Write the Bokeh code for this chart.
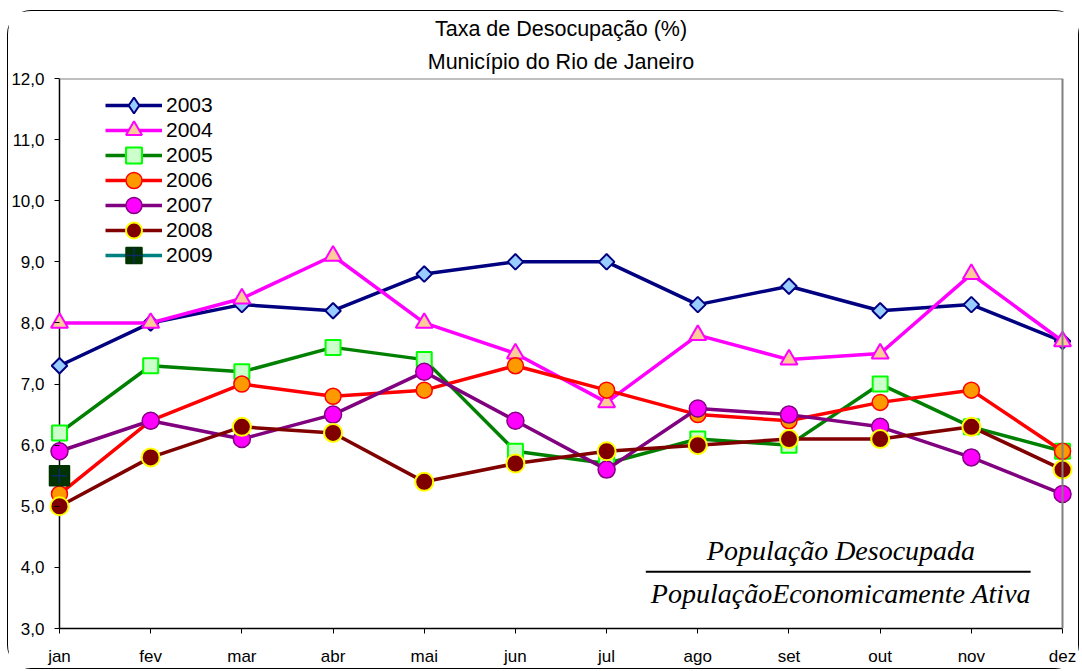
import math
from bokeh.plotting import figure
from bokeh.models import (FixedTicker, Legend, LegendItem, Label, LinearAxis, Span, Title)
from bokeh.embed import file_html
from bokeh.resources import INLINE

months = ["jan", "fev", "mar", "abr", "mai", "jun", "jul", "ago", "set", "out", "nov", "dez"]
y2003 = [7.3, 8.0, 8.3, 8.2, 8.8, 9.0, 9.0, 8.3, 8.6, 8.2, 8.3, 7.7]
y2004 = [8.0, 8.0, 8.4, 9.1, 8.0, 7.5, 6.7, 7.8, 7.4, 7.5, 8.8, 7.7]
y2005 = [6.2, 7.3, 7.2, 7.6, 7.4, 5.9, 5.7, 6.1, 6.0, 7.0, 6.3, 5.9]
y2006 = [5.2, 6.4, 7.0, 6.8, 6.9, 7.3, 6.9, 6.5, 6.4, 6.7, 6.9, 5.9]
y2007 = [5.9, 6.4, 6.1, 6.5, 7.2, 6.4, 5.6, 6.6, 6.5, 6.3, 5.8, 5.2]
y2008 = [5.0, 5.8, 6.3, 6.2, 5.4, 5.7, 5.9, 6.0, 6.1, 6.1, 6.3, 5.6]
y2009 = [5.5]
y_ticks = [3, 4, 5, 6, 7, 8, 9, 10, 11, 12]
Y_MIN, Y_MAX = 3, 12

FONT = "Liberation Sans"
n = len(months)

p = figure(width=1072, height=659, output_backend="svg", toolbar_location=None,
           x_range=(-0.1534, n - 1 + 0.153), y_range=(Y_MIN, Y_MAX),
           min_border_left=36, min_border_right=4, min_border_top=66, min_border_bottom=42)
p.styles = {"border": "1px solid black", "border-radius": "24px",
            "margin-left": "7px", "margin-top": "10px"}

p.xgrid.visible = False
p.ygrid.visible = False
p.outline_line_color = None
p.background_fill_color = "white"
p.border_fill_color = "white"

# y axis line at the first month
p.add_layout(Span(location=0, dimension="height", line_color="black", line_width=1.5, level="underlay"))

# axes
p.xaxis.ticker = FixedTicker(ticks=list(range(n)))
p.xaxis.major_label_overrides = {i: m for i, m in enumerate(months)}
p.xaxis.bounds = (0, n - 1)
p.yaxis.ticker = FixedTicker(ticks=y_ticks)
p.yaxis.major_label_overrides = {t: f"{t:.1f}".replace(".", ",") for t in y_ticks}
for ax in (p.xaxis, p.yaxis):
    ax.axis_line_color = "black"
    ax.axis_line_width = 1.5
    ax.major_tick_line_color = "black"
    ax.major_tick_line_width = 1
    ax.minor_tick_line_color = None
    ax.major_label_text_font = FONT
    ax.major_label_text_font_size = "17px"
    ax.major_label_text_color = "black"
p.xaxis.major_tick_in = 0
p.xaxis.major_tick_out = 5
p.xaxis.major_label_standoff = 13
p.yaxis.axis_line_color = None
p.yaxis.major_tick_in = 14
p.yaxis.major_tick_out = -9
p.yaxis.major_label_standoff = 1

# grey plot-area border on top and right
top_ax = LinearAxis(fixed_location=Y_MAX, bounds=(0, n - 1), ticker=FixedTicker(ticks=[]),
                    axis_line_color="#808080", axis_line_width=2, major_tick_line_color=None,
                    minor_tick_line_color=None, major_label_text_font_size="0px")
p.add_layout(top_ax, "above")
right_ax = LinearAxis(fixed_location=n - 1, ticker=FixedTicker(ticks=[]),
                      axis_line_color="#808080", axis_line_width=2, major_tick_line_color=None,
                      minor_tick_line_color=None, major_label_text_font_size="0px")
p.add_layout(right_ax, "right")

# titles
p.title.text = "Taxa de Desocupação (%)"
p.title.align = "center"
p.title.text_font = FONT
p.title.text_font_size = "21.5px"
p.title.text_font_style = "normal"
p.title.text_color = "black"
p.title.standoff = 6
p.add_layout(Title(text="Município do Rio de Janeiro", align="center", text_font=FONT,
                   text_font_size="21.5px", text_font_style="normal", text_color="black",
                   standoff=9), "above")

x = list(range(n))
items = []

def series(label, ys, line_color, marker, fill, mline, size, lw=1.5, angle=0.0, legend_marker=None):
    xs = x[:len(ys)]
    lr = p.line(xs, ys, line_color=line_color, line_width=3.5)
    sr = p.scatter(xs, ys, marker=marker, size=size, fill_color=fill,
                   line_color=mline, line_width=lw, angle=angle)
    rends = [lr, sr]
    if legend_marker is not None:
        # legend-only proxy (NaN value, never drawn in the plot area)
        proxy = p.scatter([xs[0]], [float("nan")], marker=legend_marker, size=size,
                          fill_color=fill, line_color=mline, line_width=lw)
        rends = [lr, proxy]
    items.append(LegendItem(label=label, renderers=rends))
    return lr, sr

series("2003", y2003, "#000080", "square", "#99CCFF", "#000080", 11, 2, math.pi / 4, "diamond")
series("2004", y2004, "#FF00FF", "triangle", "#FFCC99", "#FF00FF", 17, 2)
series("2005", y2005, "#008000", "square", "#CCFFCC", "#00FF00", 15, 2)
series("2006", y2006, "#FF0000", "circle", "#FF9900", "#FF0000", 16, 1.5)
series("2007", y2007, "#800080", "circle", "#FF00FF", "#800080", 17, 1.5)
series("2008", y2008, "#800000", "circle", "#800000", "#FFFF00", 18, 2)
series("2009", y2009, "#008080", "square", "#003300", "#003300", 20)
cr9 = p.scatter(x[:len(y2009)], y2009, marker="cross", size=15, line_color="#0B2A66", line_width=1.5)
items[-1].renderers.append(cr9)

# one legend per entry so that entries sit 25px apart with full-size markers
for i, it in enumerate(items):
    lg = Legend(items=[it], location=(60, 503 - 25 * i), border_line_color=None,
                background_fill_alpha=0, padding=0, margin=0, spacing=0,
                label_text_font=FONT, label_text_font_size="21px", label_text_color="black",
                glyph_width=57, glyph_height=40, label_height=40, label_standoff=4)
    p.add_layout(lg, "center")

# formula annotation
SERIF = "Liberation Serif"
p.add_layout(Label(x=8.57, y=4.27, text="População Desocupada", text_align="center",
                   text_baseline="middle", text_font=SERIF, text_color="black",
                   text_font_style="italic", text_font_size="28px"))
p.add_layout(Label(x=8.57, y=3.57, text="PopulaçãoEconomicamente Ativa", text_align="center",
                   text_baseline="middle", text_font=SERIF, text_color="black",
                   text_font_style="italic", text_font_size="28px"))
p.segment(x0=[6.43], y0=[3.93], x1=[10.65], y1=[3.93], line_color="black", line_width=2)

open("out.html", "w").write(file_html(p, INLINE))
